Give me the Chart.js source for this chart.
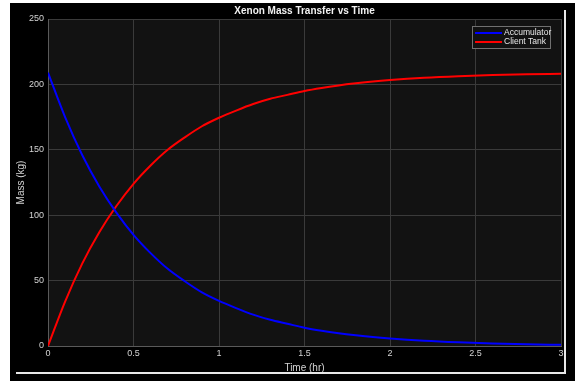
<!DOCTYPE html>
<html>
<head>
<meta charset="utf-8">
<script src="https://cdn.jsdelivr.net/npm/chart.js@4/dist/chart.umd.min.js"></script>
<style>
  html, body { margin: 0; padding: 0; background: #fff; }
  #fig { position: absolute; left: 10px; top: 3px; width: 565px; height: 378px; background: #000; }
  #fig canvas { position: absolute; left: 0; top: 0; }
  #frame { position: absolute; left: 6px; top: 7px; width: 548px; height: 362px;
           border-right: 2px solid #e8e8e8; border-bottom: 2px solid #e8e8e8; pointer-events: none; }
</style>
</head>
<body>
<div id="fig">
  <canvas id="chart" width="565" height="378"></canvas>
  <div id="frame"></div>
</div>
<script>
// time (hr)
const times = [0, 0.1, 0.2, 0.3, 0.4, 0.5, 0.6, 0.7, 0.8, 0.9, 1.0, 1.1, 1.2, 1.3, 1.4, 1.5,
  1.6, 1.7, 1.8, 1.9, 2.0, 2.2, 2.4, 2.6, 2.8, 3.0];
// mass in accumulator (kg)
const accumulator = [209, 175, 146, 122, 102, 85, 71, 59, 49.5, 41, 34.5, 29, 24, 20, 17, 14,
  11.7, 9.8, 8.2, 6.8, 5.7, 4.0, 2.8, 1.9, 1.3, 0.9];
// mass in client tank (kg)
const clientTank = [0, 34, 63, 87, 107, 124, 138, 150, 159.5, 168, 174.5, 180, 185, 189, 192, 195,
  197.3, 199.2, 200.8, 202.2, 203.3, 205, 206.2, 207.1, 207.7, 208.1];

const seriesNames = ["Accumulator", "Client Tank"];
const seriesColors = ["#0000ff", "#ff0000"];
const chartTitle = "Xenon Mass Transfer vs Time";

const txt = "#d4d4d4";
const fontFam = "'Liberation Sans', Arial, sans-serif";

const toPoints = (ys) => times.map((t, i) => ({ x: t, y: ys[i] }));

const plotBg = {
  id: "plotBg",
  beforeDraw(chart) {
    const { ctx, chartArea: a } = chart;
    ctx.save();
    ctx.fillStyle = "#121212";
    ctx.fillRect(a.left, a.top, a.right - a.left, a.bottom - a.top);
    ctx.restore();
  },
  afterDraw(chart) {
    const { ctx, chartArea: a } = chart;
    ctx.save();
    // title
    ctx.fillStyle = "#f2f2f2";
    ctx.font = "bold 10px " + fontFam;
    ctx.textAlign = "center";
    ctx.textBaseline = "middle";
    ctx.fillText(chartTitle, (a.left + a.right) / 2, a.top - 8);
    // legend box
    const bx = a.right - 89, by = a.top + 7, bw = 78, bh = 22;
    ctx.fillStyle = "#121212";
    ctx.fillRect(bx, by, bw, bh);
    ctx.strokeStyle = "#707070";
    ctx.lineWidth = 1;
    ctx.strokeRect(bx + 0.5, by + 0.5, bw, bh);
    ctx.font = "8.5px " + fontFam;
    ctx.textAlign = "left";
    seriesNames.forEach((name, i) => {
      const yy = by + 7 + i * 9;
      ctx.strokeStyle = seriesColors[i];
      ctx.lineWidth = 2;
      ctx.beginPath();
      ctx.moveTo(bx + 3, yy);
      ctx.lineTo(bx + 30, yy);
      ctx.stroke();
      ctx.fillStyle = "#e6e6e6";
      ctx.fillText(name, bx + 32, yy);
    });
    ctx.restore();
  }
};

new Chart(document.getElementById("chart"), {
  type: "line",
  data: {
    datasets: [
      { label: seriesNames[0], data: toPoints(accumulator), borderColor: seriesColors[0],
        borderWidth: 2, pointRadius: 0, cubicInterpolationMode: "monotone", fill: false },
      { label: seriesNames[1], data: toPoints(clientTank), borderColor: seriesColors[1],
        borderWidth: 2, pointRadius: 0, cubicInterpolationMode: "monotone", fill: false }
    ]
  },
  options: {
    responsive: false,
    animation: false,
    layout: { padding: { top: 16, right: 14, left: 0, bottom: 0 } },
    plugins: { legend: { display: false }, title: { display: false }, tooltip: { enabled: false } },
    scales: {
      x: {
        type: "linear",
        min: 0, max: 3,
        ticks: { stepSize: 0.5, color: txt, font: { size: 9, family: fontFam }, padding: 2, maxRotation: 0,
                 callback: (v) => String(v) },
        grid: { color: "#3a3a3a", tickLength: 0 },
        border: { color: "#5a5a5a" },
        title: { display: true, text: "Time (hr)", color: txt, font: { size: 10, family: fontFam }, padding: { top: 0, bottom: 7 } },
        afterFit(s) { s.height = 35; }
      },
      y: {
        min: 0, max: 250,
        ticks: { stepSize: 50, color: txt, font: { size: 9, family: fontFam }, padding: 4 },
        grid: { color: "#3a3a3a", tickLength: 0 },
        border: { color: "#5a5a5a" },
        title: { display: true, text: "Mass (kg)", color: txt, font: { size: 10, family: fontFam }, padding: { top: 5, bottom: 0 } },
        afterFit(s) { s.width = 38; }
      }
    }
  },
  plugins: [plotBg]
});
</script>
</body>
</html>
